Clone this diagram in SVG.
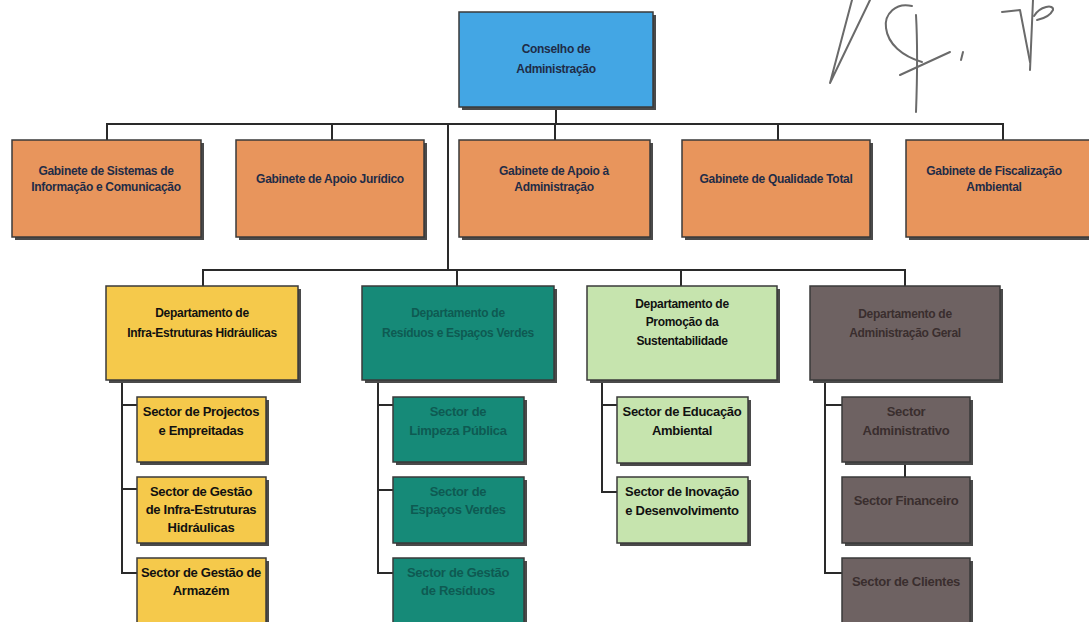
<svg xmlns="http://www.w3.org/2000/svg" width="1089" height="622" viewBox="0 0 1089 622">
<style>
.sh{fill:#4a4a4a}
.bx{stroke:#3a3a3a;stroke-width:1.5}
.blue{fill:#43a6e4}
.orange{fill:#e8955c}
.yellow{fill:#f5c94b}
.teal{fill:#168a78}
.green{fill:#c6e4ae}
.brown{fill:#6e6262}
text{font-family:"Liberation Sans",Arial,sans-serif;font-weight:bold;font-size:12px;text-anchor:middle;dominant-baseline:central;letter-spacing:-0.3px}
.tn{fill:#1f2c47}
.tk{fill:#111}
.tt{fill:#0e5a52}
.tb{fill:#3a2e2e}
.big{font-size:13px}
.conn{fill:none;stroke:#2a2a2a;stroke-width:2}
.sig{fill:none;stroke:#6a6a6a;stroke-width:2;stroke-linecap:round;stroke-linejoin:round}
</style>

<g id="connectors">
<path class="conn" d="M556 107V124M107 140V124H1003V140M332 124V140M555 124V140M778 124V140M448 124V270"/>
<path class="conn" d="M203 286V270H905V286M457 270V286M681 270V286"/>
<path class="conn" d="M122 380V573H137M122 405H137M122 489H137"/>
<path class="conn" d="M378 380V573H393M378 405H393M378 490H393"/>
<path class="conn" d="M602 380V492H617M602 405H617"/>
<path class="conn" d="M825 380V573H842M825 405H842M905 462V477"/>
</g>

<g id="n-conselho">
<rect class="sh" x="462" y="15" width="194" height="95"/>
<rect class="bx blue" x="459" y="12" width="194" height="95"/>
<text class="tn" x="556" y="49">Conselho de</text>
<text class="tn" x="556" y="69">Administração</text>
</g>

<g id="n-gab-sic">
<rect class="sh" x="15" y="143" width="189" height="97"/>
<rect class="bx orange" x="12" y="140" width="189" height="97"/>
<text class="tn" x="106" y="171">Gabinete de Sistemas de</text>
<text class="tn" x="106" y="187">Informação e Comunicação</text>
</g>

<g id="n-gab-juridico">
<rect class="sh" x="239" y="143" width="188" height="97"/>
<rect class="bx orange" x="236" y="140" width="188" height="97"/>
<text class="tn" x="330" y="179">Gabinete de Apoio Jurídico</text>
</g>

<g id="n-gab-apoio">
<rect class="sh" x="462" y="143" width="191" height="97"/>
<rect class="bx orange" x="459" y="140" width="191" height="97"/>
<text class="tn" x="554" y="171">Gabinete de Apoio à</text>
<text class="tn" x="554" y="187">Administração</text>
</g>

<g id="n-gab-qualidade">
<rect class="sh" x="685" y="143" width="188" height="97"/>
<rect class="bx orange" x="682" y="140" width="188" height="97"/>
<text class="tn" x="776" y="179">Gabinete de Qualidade Total</text>
</g>

<g id="n-gab-fiscalizacao">
<rect class="sh" x="909" y="143" width="190" height="97"/>
<rect class="bx orange" x="906" y="140" width="190" height="97"/>
<text class="tn" x="994" y="171">Gabinete de Fiscalização</text>
<text class="tn" x="994" y="187">Ambiental</text>
</g>

<g id="n-dep-infra">
<rect class="sh" x="109" y="289" width="192" height="94"/>
<rect class="bx yellow" x="106" y="286" width="192" height="94"/>
<text class="tk" x="202" y="313">Departamento de</text>
<text class="tk" x="202" y="333">Infra-Estruturas Hidráulicas</text>
</g>

<g id="n-dep-residuos">
<rect class="sh" x="365" y="289" width="192" height="94"/>
<rect class="bx teal" x="362" y="286" width="192" height="94"/>
<text class="tt" x="458" y="313">Departamento de</text>
<text class="tt" x="458" y="333">Resíduos e Espaços Verdes</text>
</g>

<g id="n-dep-promocao">
<rect class="sh" x="590" y="289" width="190" height="94"/>
<rect class="bx green" x="587" y="286" width="190" height="94"/>
<text class="tk" x="682" y="304">Departamento de</text>
<text class="tk" x="682" y="322">Promoção da</text>
<text class="tk" x="682" y="341">Sustentabilidade</text>
</g>

<g id="n-dep-admin">
<rect class="sh" x="813" y="289" width="190" height="94"/>
<rect class="bx brown" x="810" y="286" width="190" height="94"/>
<text class="tb" x="905" y="314">Departamento de</text>
<text class="tb" x="905" y="333">Administração Geral</text>
</g>

<g id="n-sec-projectos">
<rect class="sh" x="140" y="400" width="129" height="65"/>
<rect class="bx yellow" x="137" y="397" width="129" height="65"/>
<text class="tk big" x="201" y="411">Sector de Projectos</text>
<text class="tk big" x="201" y="430">e Empreitadas</text>
</g>

<g id="n-sec-gestao-infra">
<rect class="sh" x="140" y="480" width="129" height="66"/>
<rect class="bx yellow" x="137" y="477" width="129" height="66"/>
<text class="tk big" x="201" y="491">Sector de Gestão</text>
<text class="tk big" x="201" y="509">de Infra-Estruturas</text>
<text class="tk big" x="201" y="527">Hidráulicas</text>
</g>

<g id="n-sec-armazem">
<rect class="sh" x="140" y="561" width="129" height="70"/>
<rect class="bx yellow" x="137" y="558" width="129" height="70"/>
<text class="tk big" x="201" y="572">Sector de Gestão de</text>
<text class="tk big" x="201" y="590">Armazém</text>
</g>

<g id="n-sec-limpeza">
<rect class="sh" x="396" y="400" width="131" height="65"/>
<rect class="bx teal" x="393" y="397" width="131" height="65"/>
<text class="tt big" x="458" y="411">Sector de</text>
<text class="tt big" x="458" y="430">Limpeza Pública</text>
</g>

<g id="n-sec-espacos">
<rect class="sh" x="396" y="480" width="131" height="66"/>
<rect class="bx teal" x="393" y="477" width="131" height="66"/>
<text class="tt big" x="458" y="491">Sector de</text>
<text class="tt big" x="458" y="509">Espaços Verdes</text>
</g>

<g id="n-sec-residuos">
<rect class="sh" x="396" y="561" width="131" height="70"/>
<rect class="bx teal" x="393" y="558" width="131" height="70"/>
<text class="tt big" x="458" y="572">Sector de Gestão</text>
<text class="tt big" x="458" y="590">de Resíduos</text>
</g>

<g id="n-sec-educacao">
<rect class="sh" x="620" y="400" width="131" height="66"/>
<rect class="bx green" x="617" y="397" width="131" height="66"/>
<text class="tk big" x="682" y="411">Sector de Educação</text>
<text class="tk big" x="682" y="430">Ambiental</text>
</g>

<g id="n-sec-inovacao">
<rect class="sh" x="620" y="480" width="131" height="66"/>
<rect class="bx green" x="617" y="477" width="131" height="66"/>
<text class="tk big" x="682" y="491">Sector de Inovação</text>
<text class="tk big" x="682" y="510">e Desenvolvimento</text>
</g>

<g id="n-sec-administrativo">
<rect class="sh" x="845" y="400" width="128" height="65"/>
<rect class="bx brown" x="842" y="397" width="128" height="65"/>
<text class="tb big" x="906" y="411">Sector</text>
<text class="tb big" x="906" y="430">Administrativo</text>
</g>

<g id="n-sec-financeiro">
<rect class="sh" x="845" y="480" width="128" height="66"/>
<rect class="bx brown" x="842" y="477" width="128" height="66"/>
<text class="tb big" x="906" y="500">Sector Financeiro</text>
</g>

<g id="n-sec-clientes">
<rect class="sh" x="845" y="561" width="128" height="70"/>
<rect class="bx brown" x="842" y="558" width="128" height="70"/>
<text class="tb big" x="906" y="581">Sector de Clientes</text>
</g>

<g id="signature">
<path class="sig" d="M852 0L830 83L870 0"/>
<path class="sig" d="M912 6C896 2 884 14 886 28C888 44 902 56 922 62"/>
<path class="sig" d="M916 15C918 50 917 85 916 112"/>
<path class="sig" d="M900 75L950 52"/>
<path class="sig" d="M963 52L961 60"/>
<path class="sig" d="M1033 0L1030 70"/>
<path class="sig" d="M1002 12L1020 10L1030 62"/>
<path class="sig" d="M1034 16C1040 6 1054 4 1053 10C1050 16 1042 19 1037 20"/>
</g>
</svg>
